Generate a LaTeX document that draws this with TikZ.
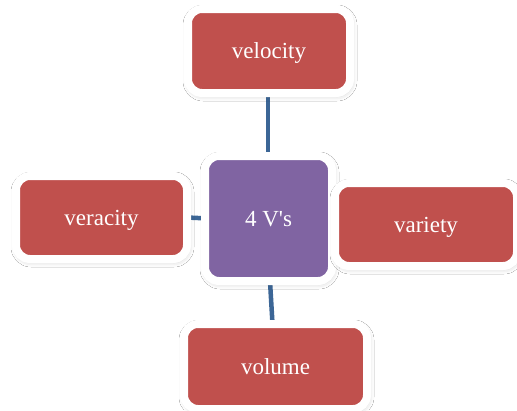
\documentclass[tikz,border=0pt]{standalone}
\usepackage{fontspec}
\setmainfont{Liberation Serif}
\usetikzlibrary{shadows.blur}
\definecolor{boxred}{HTML}{C0504D}
\definecolor{boxpurple}{HTML}{8064A2}
\definecolor{linkblue}{HTML}{3C6696}
\tikzset{
  vbox/.style={rectangle, rounded corners=14pt, draw=white, line width=8pt,
    inner sep=0pt, text=white, font=\fontsize{23}{27}\selectfont,
    text height=15.5pt, text depth=0pt,
    blur shadow={shadow xshift=1pt, shadow yshift=-2pt, shadow blur radius=6pt, shadow opacity=25}},
  redbox/.style={vbox, fill=boxred},
  purplebox/.style={vbox, fill=boxpurple},
  link/.style={draw=linkblue, line width=4.5pt}
}
\begin{document}
\begin{tikzpicture}[x=1pt,y=-1pt]
\useasboundingbox (0,0) rectangle (517,410);
\path[fill=white] (0,0) rectangle (517,410);
\coordinate (velc) at (269,51);
\coordinate (fourc) at (268.5,218.5);
\coordinate (verc) at (101.5,217.5);
\coordinate (volc) at (275.5,366.5);
\node[minimum width=162pt, minimum height=84pt, inner sep=0pt] (velB) at (velc) {};
\node[minimum width=127pt, minimum height=125pt, inner sep=0pt] (fourB) at (fourc) {};
\node[minimum width=171pt, minimum height=83pt, inner sep=0pt] (verB) at (verc) {};
\node[minimum width=183pt, minimum height=85pt, inner sep=0pt] (volB) at (volc) {};
\draw[link] ([xshift=-1pt]velB.south) -- ([xshift=-0.5pt]fourB.north);
\draw[link] (verB.east) -- ([xshift=4pt]fourB.west);
\draw[link] ([xshift=1.5pt]fourB.south) -- ([xshift=-3pt]volB.north);
\node[redbox, minimum width=162pt, minimum height=84pt] (vel) at (velc) {velocity};
\node[purplebox, minimum width=127pt, minimum height=125pt] (four) at (fourc) {4 V\textquotesingle s};
\node[redbox, minimum width=171pt, minimum height=83pt] (ver) at (verc) {veracity};
\node[redbox, minimum width=182pt, minimum height=83pt] (var) at (426,224.5) {variety};
\node[redbox, minimum width=183pt, minimum height=85pt] (vol) at (volc) {volume};
\end{tikzpicture}
\end{document}
